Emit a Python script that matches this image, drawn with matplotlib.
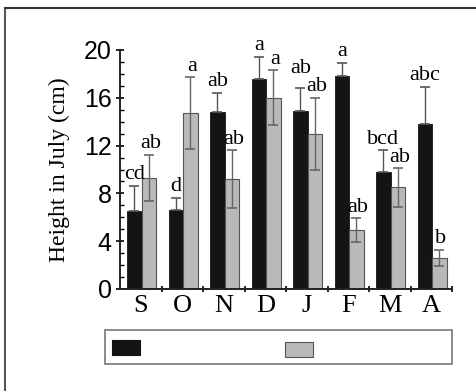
import matplotlib
matplotlib.use("Agg")
import matplotlib.pyplot as plt
from matplotlib.patches import Rectangle
from matplotlib.lines import Line2D
import numpy as np

months = ["S", "O", "N", "D", "J", "F", "M", "A"]
black_vals = [6.5, 6.6, 14.8, 17.6, 14.9, 17.8, 9.8, 13.8]
black_err = [2.1, 1.0, 1.6, 1.8, 1.9, 1.1, 1.8, 3.1]
gray_vals = [9.3, 14.7, 9.2, 16.0, 13.0, 4.9, 8.5, 2.6]
gray_err = [1.9, 3.0, 2.4, 2.3, 3.0, 1.0, 1.6, 0.7]
black_letters = ["cd", "d", "ab", "a", "ab", "a", "bcd", "abc"]
gray_letters = ["ab", "a", "ab", "a", "ab", "ab", "ab", "b"]
yticks = [0, 4, 8, 12, 16, 20]

W, H = 477, 391
fig = plt.figure(figsize=(W / 100, H / 100), dpi=100)
ax = fig.add_axes([120 / W, 1 - 289 / H, (452 - 120) / W, (289 - 50) / H])

n = len(months)
x = np.arange(n)
bw = 0.35
xb = x + 0.17 + bw / 2
xg = x + 0.17 + bw + bw / 2

ax.bar(xb, black_vals, width=bw, color="#141414", edgecolor="#141414", linewidth=0.6, zorder=2)
ax.bar(xg, gray_vals, width=bw, color="#b9b9b9", edgecolor="#555555", linewidth=0.8, zorder=2)
ax.errorbar(xb, black_vals, yerr=[np.zeros(n), black_err], fmt="none",
            ecolor="#555555", elinewidth=1.0, capsize=3.5, capthick=1.2, zorder=3)
ax.errorbar(xg, gray_vals, yerr=gray_err, fmt="none",
            ecolor="#666666", elinewidth=1.0, capsize=3.5, capthick=1.2, zorder=3)

tfont = dict(family=["Liberation Serif", "DejaVu Serif"])
lfs = 16
for i in range(n):
    tb = black_vals[i] + black_err[i]
    tg = gray_vals[i] + gray_err[i]
    yb = tb + 0.15
    yg = tg + 0.15
    # lift the black-bar letter if it would collide with the neighbouring gray-bar letter
    if abs(yb - yg) < 1.5 and len(black_letters[i]) + len(gray_letters[i]) >= 4:
        yb = yg + 1.5
    ax.text(xb[i], yb, black_letters[i], ha="center", va="bottom", fontsize=lfs, **tfont)
    ax.text(xg[i] + 0.04, yg, gray_letters[i], ha="center", va="bottom", fontsize=lfs, **tfont)

ax.set_xlim(0, n)
ax.set_ylim(0, 20)
ax.set_yticks(yticks)
ax.set_yticklabels([str(v) for v in yticks], fontsize=18, family=["Liberation Sans", "DejaVu Sans"])
ax.set_yticks(np.arange(0, 21, 1), minor=True)
ax.tick_params(axis="y", which="major", direction="inout", length=6, width=1.2, pad=3)
ax.tick_params(axis="y", which="minor", direction="in", length=3, width=1.0)

ax.set_xticks(np.arange(1, n + 1))
ax.set_xticklabels([])
ax.set_xticks(x + 0.5, minor=True)
ax.set_xticklabels(months, minor=True, fontsize=19, **tfont)
ax.tick_params(axis="x", which="major", direction="inout", length=5, width=1.2)
ax.tick_params(axis="x", which="minor", length=0, pad=4)

for s in ["top", "right"]:
    ax.spines[s].set_visible(False)
for s in ["left", "bottom"]:
    ax.spines[s].set_linewidth(1.4)
    ax.spines[s].set_color("#222222")

ax.set_ylabel("Height in July (cm)", fontsize=17, labelpad=10, **tfont)

# outer frame (left and top lines)
fig.add_artist(Line2D([5.5 / W, 5.5 / W], [0, 1 - 8 / H], transform=fig.transFigure, color="#555555", lw=1.5))
fig.add_artist(Line2D([5.5 / W, 1], [1 - 8 / H, 1 - 8 / H], transform=fig.transFigure, color="#333333", lw=1.5))

# legend box without labels
def frect(x0, y0, x1, y1, **kw):
    fig.add_artist(Rectangle((x0 / W, 1 - y1 / H), (x1 - x0) / W, (y1 - y0) / H,
                             transform=fig.transFigure, **kw))

frect(105, 330, 452, 364, facecolor="white", edgecolor="#777777", lw=1.2)
frect(112, 340, 140, 355, facecolor="#141414", edgecolor="#141414", lw=0.8)
frect(285, 342, 313, 357, facecolor="#b9b9b9", edgecolor="#555555", lw=0.8)

fig.savefig("out.png", dpi=100)
